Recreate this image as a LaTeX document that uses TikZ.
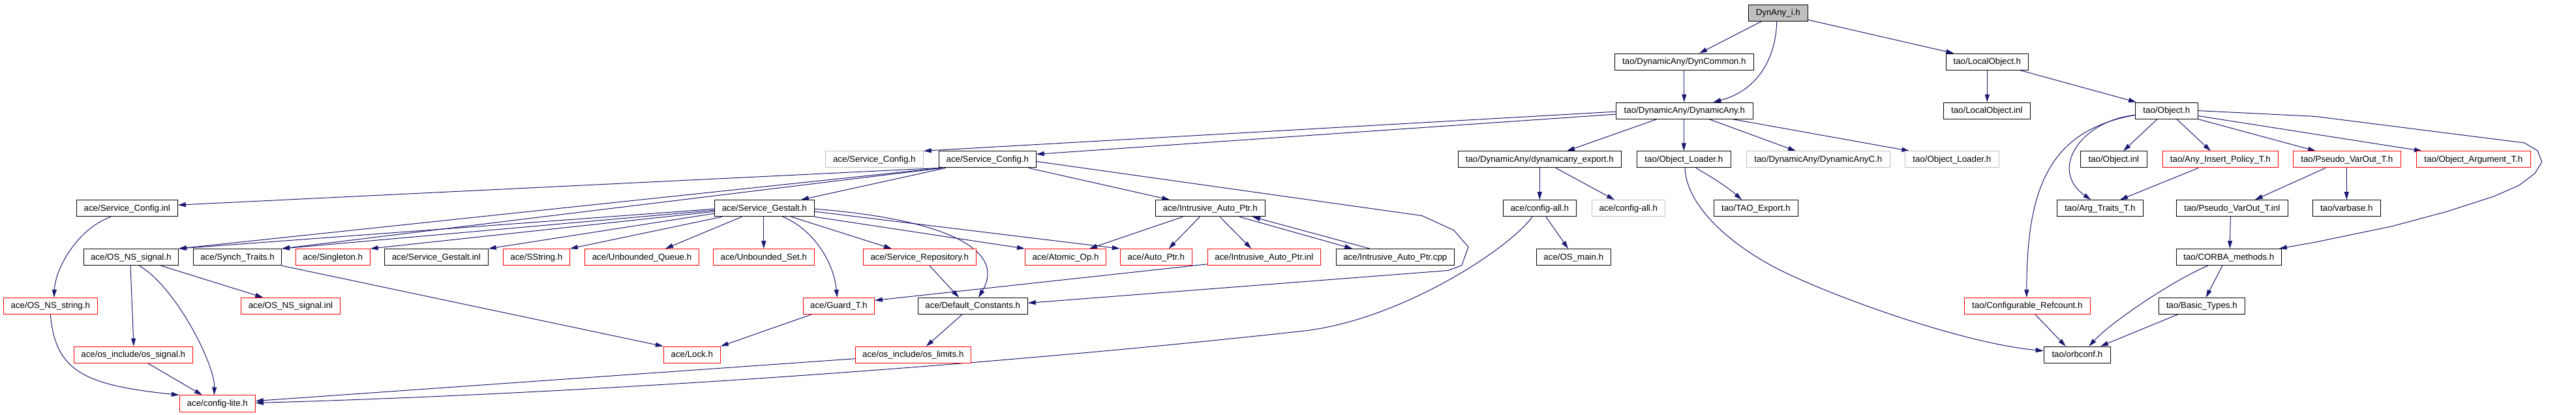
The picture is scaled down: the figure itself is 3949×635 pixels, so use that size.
\documentclass[tikz,border=0pt]{standalone}
\usepackage{fontspec}
\newfontfamily\dgfont{Liberation Sans}
\usetikzlibrary{arrows.meta,calc}
\definecolor{dxblue}{HTML}{191970}
\definecolor{dxred}{HTML}{FF0000}
\definecolor{dxgray}{HTML}{BFBFBF}
\pgfdeclarelayer{bg}
\pgfsetlayers{bg,main}
\begin{document}
\begin{tikzpicture}[x=1pt,y=-1pt,
  box/.style={draw=black,fill=white,line width=1pt,inner sep=0pt,minimum height=25.1pt,text height=10pt,text depth=2pt,font=\dgfont\fontsize{13.3}{16}\selectfont},
  rbox/.style={box,draw=dxred},
  gbox/.style={box,draw=dxgray},
  edge/.style={draw=dxblue,line width=1pt,-{Triangle[length=12pt,width=7pt]}}]
\useasboundingbox (0,0) rectangle (3949,635);
% row 0
\node[box,fill=dxgray,minimum width=91pt] (dynanyi) at (2725.8,19.9) {DynAny\_i.h};
% row 1
\node[box,minimum width=213pt] (dyncommon) at (2581.8,94.7) {tao/DynamicAny/DynCommon.h};
\node[box,minimum width=126pt] (localobj) at (3046.3,94.7) {tao/LocalObject.h};
% row 2
\node[box,minimum width=210pt] (dynamicany) at (2582.3,169.6) {tao/DynamicAny/DynamicAny.h};
\node[box,minimum width=133pt] (localinl) at (3045.8,169.6) {tao/LocalObject.inl};
\node[box,minimum width=96pt] (object) at (3321.3,169.6) {tao/Object.h};
% row 3
\node[gbox,minimum width=150pt] (scgray) at (1340.3,244.4) {ace/Service\_Config.h};
\node[box,minimum width=149pt] (sch) at (1513.8,244.4) {ace/Service\_Config.h};
\node[box,minimum width=250pt] (dynexport) at (2360.3,244.4) {tao/DynamicAny/dynamicany\_export.h};
\node[box,minimum width=144pt] (objloader) at (2581.3,244.4) {tao/Object\_Loader.h};
\node[gbox,minimum width=220pt] (dynanyc) at (2787.3,244.4) {tao/DynamicAny/DynamicAnyC.h};
\node[gbox,minimum width=144pt] (objloadergray) at (2992.3,244.4) {tao/Object\_Loader.h};
\node[box,minimum width=102pt] (objinl) at (3240.3,244.4) {tao/Object.inl};
\node[rbox,minimum width=177pt] (anyinsert) at (3403.8,244.4) {tao/Any\_Insert\_Policy\_T.h};
\node[rbox,minimum width=165pt] (pseudo) at (3597.8,244.4) {tao/Pseudo\_VarOut\_T.h};
\node[rbox,minimum width=175pt] (objarg) at (3791.8,244.4) {tao/Object\_Argument\_T.h};
% row 4
\node[box,minimum width=155pt] (scinl) at (194.8,319.2) {ace/Service\_Config.inl};
\node[box,minimum width=153pt] (gestalt) at (1171.8,319.2) {ace/Service\_Gestalt.h};
\node[box,minimum width=168pt] (iap) at (1855.3,319.2) {ace/Intrusive\_Auto\_Ptr.h};
\node[box,minimum width=112pt] (configall) at (2360.3,319.2) {ace/config-all.h};
\node[gbox,minimum width=112pt] (configallgray) at (2496.3,319.2) {ace/config-all.h};
\node[box,minimum width=129pt] (taoexport) at (2691.8,319.2) {tao/TAO\_Export.h};
\node[box,minimum width=132pt] (argtraits) at (3219.3,319.2) {tao/Arg\_Traits\_T.h};
\node[box,minimum width=171pt] (pseudoinl) at (3421.8,319.2) {tao/Pseudo\_VarOut\_T.inl};
\node[box,minimum width=104pt] (varbase) at (3597.3,319.2) {tao/varbase.h};
% row 5
\node[box,minimum width=145pt] (nssignal) at (200.8,394.1) {ace/OS\_NS\_signal.h};
\node[box,minimum width=135pt] (synch) at (364,394.1) {ace/Synch\_Traits.h};
\node[rbox,minimum width=114pt] (singleton) at (510.3,394.1) {ace/Singleton.h};
\node[box,minimum width=159pt] (gestaltinl) at (668.8,394.1) {ace/Service\_Gestalt.inl};
\node[rbox,minimum width=102pt] (sstring) at (822.3,394.1) {ace/SString.h};
\node[rbox,minimum width=175pt] (uqueue) at (984,394.1) {ace/Unbounded\_Queue.h};
\node[rbox,minimum width=155pt] (uset) at (1170.8,394.1) {ace/Unbounded\_Set.h};
\node[rbox,minimum width=173pt] (repo) at (1409.8,394.1) {ace/Service\_Repository.h};
\node[rbox,minimum width=124pt] (atomic) at (1633.5,394.1) {ace/Atomic\_Op.h};
\node[rbox,minimum width=110pt] (autoptr) at (1772.3,394.1) {ace/Auto\_Ptr.h};
\node[rbox,minimum width=173pt] (iapinl) at (1937.8,394.1) {ace/Intrusive\_Auto\_Ptr.inl};
\node[box,minimum width=181pt] (iapcpp) at (2138.8,394.1) {ace/Intrusive\_Auto\_Ptr.cpp};
\node[box,minimum width=114pt] (osmain) at (2412.3,394.1) {ace/OS\_main.h};
\node[box,minimum width=161pt] (corba) at (3416.8,394.1) {tao/CORBA\_methods.h};
% row 6
\node[rbox,minimum width=144pt] (nsstring) at (77.3,468.9) {ace/OS\_NS\_string.h};
\node[rbox,minimum width=152pt] (nssignalinl) at (445.5,468.9) {ace/OS\_NS\_signal.inl};
\node[rbox,minimum width=109pt] (guard) at (1285.8,468.9) {ace/Guard\_T.h};
\node[box,minimum width=168pt] (defconst) at (1491.3,468.9) {ace/Default\_Constants.h};
\node[rbox,minimum width=193pt] (refcount) at (3107.8,468.9) {tao/Configurable\_Refcount.h};
\node[box,minimum width=132pt] (basictypes) at (3375.3,468.9) {tao/Basic\_Types.h};
% row 7
\node[rbox,minimum width=182pt] (ossignal) at (204.3,543.7) {ace/os\_include/os\_signal.h};
\node[rbox,minimum width=87pt] (lock) at (1060.8,543.7) {ace/Lock.h};
\node[rbox,minimum width=177pt] (oslimits) at (1399.8,543.7) {ace/os\_include/os\_limits.h};
\node[box,minimum width=102pt] (orbconf) at (3184.3,543.7) {tao/orbconf.h};
% row 8
\node[rbox,minimum width=116pt] (configlite) at (333.3,618.5) {ace/config-lite.h};

\begin{pgfonlayer}{bg}
% DynAny_i.h
\draw[edge] ($(dynanyi.south)+(-25.8,0)$) -- ($(dyncommon.north)+(23.2,0)$);
\draw[edge] ($(dynanyi.south)+(-2,0)$) .. controls (2722,95) and (2690,140) .. ($(dynamicany.north)+(44,0)$);
\draw[edge] ($(dynanyi.east)+(0,10.5)$) -- ($(localobj.north)+(-51,0)$);
\draw[edge] (dyncommon.south) -- (dyncommon.south |- dynamicany.north);
% DynamicAny.h
\draw[edge] ($(dynamicany.west)+(0,1.5)$) -- (scgray.north east);
\draw[edge] ($(dynamicany.west)+(0,5.5)$) -- ($(sch.north east)+(0,5)$);
\draw[edge] ($(dynamicany.south)+(-42.3,0)$) -- ($(dynexport.north)+(41.7,0)$);
\draw[edge] (objloader.north |- dynamicany.south) -- (objloader.north);
\draw[edge] ($(dynamicany.south)+(37.7,0)$) -- ($(dynanyc.north)+(-34.3,0)$);
\draw[edge] ($(dynamicany.south)+(73.7,0)$) -- ($(objloadergray.north)+(-65,0)$);
% LocalObject.h
\draw[edge] (localobj.south) -- (localobj.south |- localinl.north);
\draw[edge] ($(localobj.south)+(50.7,0)$) -- ($(object.north)+(-46.3,0)$);
% dynamicany_export.h
\draw[edge] (dynexport.south) -- (configall.north);
\draw[edge] ($(dynexport.south)+(24.7,0)$) -- ($(configallgray.north)+(-21.3,0)$);
\draw[edge] ($(configall.south)+(9.7,0)$) -- ($(osmain.north)+(-8.3,0)$);
\draw[edge] ($(configall.south)+(-11.3,0)$) .. controls (2315,380) and (2150,489) .. (2000,507) .. controls (1500,562) and (900,603) .. ($(configlite.east)+(0,-1)$);
% Object_Loader.h
\draw[edge] ($(objloader.south)+(18.7,0)$) .. controls (2625,272) and (2650,288) .. ($(taoexport.north)+(-21.8,0)$);
\draw[edge] ($(objloader.south)+(1.7,0)$) .. controls (2585,310) and (2640,365) .. (2713,405.6) .. controls (2786,446) and (3000,525) .. ($(orbconf.west)+(0,-6)$);
% Object.h
\draw[edge] ($(object.south)+(-14.3,0)$) -- ($(objinl.north)+(14.7,0)$);
\draw[edge] ($(object.south)+(15.7,0)$) -- ($(anyinsert.north)+(-14.8,0)$);
\draw[edge] (object.south east) -- ($(pseudo.north)+(-47.8,0)$);
\draw[edge] ($(object.east)+(0,8)$) -- ($(objarg.north)+(-78.8,0)$);
\draw[edge] (object.east) -- (3550,178.5) -- (3870,219) -- (3890,231) -- (3896.7,248) -- (3886,265.7) -- (3861.7,284) -- (3823,301) -- (3750,324.5) -- (3666.7,346.8) -- (3550,371) -- ($(corba.north east)+(-4,0)$);
\draw[edge] ($(object.west)+(0,6.8)$) .. controls (3190,185) and (3140,260) .. ($(argtraits.north)+(-14,0)$);
\draw[edge] ($(object.west)+(0,6.8)$) .. controls (3140,200) and (3107,290) .. ($(refcount.north)+(-1,0)$);
\draw[edge] ($(anyinsert.south)+(-33.8,0)$) -- ($(argtraits.north)+(30.7,0)$);
\draw[edge] ($(pseudo.south)+(-32.8,0)$) -- ($(pseudoinl.north)+(35,0)$);
\draw[edge] (varbase.north |- pseudo.south) -- (varbase.north);
\draw[edge] ($(pseudoinl.south)+(-2.5,0)$) -- ($(corba.north)+(1.5,0)$);
\draw[edge] ($(corba.south)+(-10,0)$) -- ($(basictypes.north)+(6.4,0)$);
\draw[edge] ($(corba.south)+(-31.8,0)$) .. controls (3340,425) and (3240,490) .. ($(orbconf.north)+(18,0)$);
\draw[edge] ($(basictypes.south)+(-37,0)$) -- ($(orbconf.north)+(35.7,0)$);
\draw[edge] ($(refcount.south)+(12.2,0)$) -- ($(orbconf.north)+(-17.6,0)$);
% Service_Config.h
\draw[edge] (sch.south west) -- ($(scinl.east)+(0,-5)$);
\draw[edge] ($(sch.south west)+(3,0)$) -- (nssignal.north east);
\draw[edge] ($(sch.south west)+(6,0)$) -- (synch.north east);
\draw[edge] ($(sch.south west)+(11,0)$) -- ($(gestalt.north)+(56,0)$);
\draw[edge] ($(sch.south)+(62.9,0)$) -- ($(iap.north)+(-62,0)$);
\draw[edge] ($(sch.east)+(0,3)$) -- (2180,330.6) -- (2228.7,352.9) -- (2251,378.4) -- (2240.7,406.8) -- (2220,414.5) -- ($(defconst.east)+(0,-4.5)$);
% Service_Gestalt.h
\draw[edge] ($(gestalt.west)+(0,1)$) -- (nssignal.north east);
\draw[edge] ($(gestalt.west)+(0,3)$) -- (synch.north east);
\draw[edge] ($(gestalt.west)+(0,5)$) -- (singleton.north east);
\draw[edge] ($(gestalt.west)+(0,8)$) -- (gestaltinl.north east);
\draw[edge] ($(gestalt.south west)+(12,0)$) -- (sstring.north east);
\draw[edge] ($(gestalt.south)+(-34.5,0)$) -- ($(uqueue.north)+(36,0)$);
\draw[edge] (uset.north |- gestalt.south) -- (uset.north);
\draw[edge] ($(gestalt.south)+(41.2,0)$) -- ($(repo.north)+(-42.8,0)$);
\draw[edge] ($(gestalt.south)+(28,0)$) .. controls (1245,350) and (1278,400) .. ($(guard.north)+(-2.5,0)$);
\draw[edge] (gestalt.south east) -- (atomic.north west);
\draw[edge] ($(gestalt.east)+(0,5)$) -- (autoptr.north west);
\draw[edge] ($(gestalt.east)+(0,1)$) .. controls (1440,335) and (1545,380) .. ($(defconst.north)+(8.7,0)$);
% Intrusive_Auto_Ptr
\draw[edge] ($(iap.south)+(-42,0)$) -- ($(atomic.north)+(36.5,0)$);
\draw[edge] ($(iap.south)+(-16,0)$) -- ($(autoptr.north)+(19.4,0)$);
\draw[edge] ($(iap.south)+(14.7,0)$) -- ($(iapinl.north)+(-19.5,0)$);
\draw[edge] ($(iap.south)+(44.7,0)$) -- ($(iapcpp.north)+(-65.5,0)$);
\draw[edge] ($(iapcpp.north)+(-38.8,0)$) -- ($(iap.south)+(64.7,0)$);
\draw[edge] ($(iapinl.west)+(0,10.7)$) -- ($(guard.east)+(0,-8.5)$);
% lower ace
\draw[edge] ($(repo.south)+(15.2,0)$) -- ($(defconst.north)+(-21.3,0)$);
\draw[edge] ($(defconst.south)+(-16.3,0)$) -- ($(oslimits.north)+(20,0)$);
\draw[edge] ($(oslimits.west)+(0,6)$) -- ($(configlite.east)+(0,-4)$);
\draw[edge] ($(guard.south)+(-42,0)$) -- (lock.north east);
\draw[edge] (synch.south east) -- (lock.north west);
\draw[edge] ($(nssignal.south)+(-0.8,0)$) -- ($(ossignal.north)+(0.7,0)$);
\draw[edge] ($(nssignal.south)+(12.5,0)$) .. controls (270,440) and (330,560) .. ($(configlite.north)+(-5,0)$);
\draw[edge] ($(nssignal.south)+(45.9,0)$) -- ($(nssignalinl.north)+(-42.2,0)$);
\draw[edge] ($(scinl.south)+(-24.8,0)$) .. controls (120,350) and (85,410) .. ($(nsstring.north)+(5.5,0)$);
\draw[edge] (nsstring.south) .. controls (85,570) and (130,590) .. (configlite.north west);
\draw[edge] ($(ossignal.south)+(22.4,0)$) -- ($(configlite.north)+(-23.3,0)$);
\end{pgfonlayer}
\end{tikzpicture}
\end{document}
